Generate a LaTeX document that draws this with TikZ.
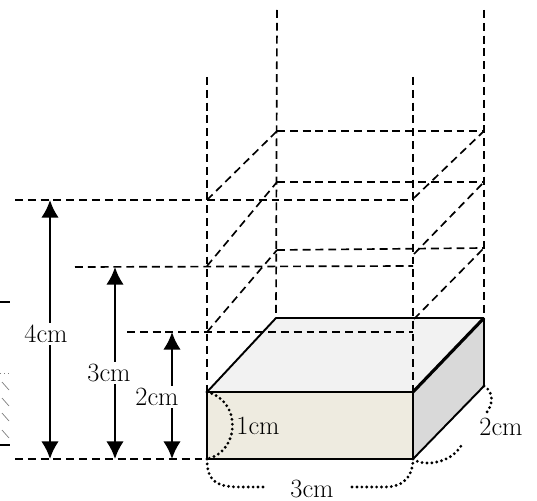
\documentclass[tikz,border=0pt]{standalone}
\usetikzlibrary{arrows.meta}

\begin{document}
\begin{tikzpicture}[x=0.02cm, y=-0.02cm,
  font=\fontsize{15}{17}\selectfont,
  guide/.style={line width=0.95pt, dash pattern=on 4.5pt off 2.8pt},
  edge/.style={line width=1.1pt, line join=round},
  dim/.style={{Latex[length=10pt,width=10pt]}-{Latex[length=10pt,width=10pt]}, line width=1.5pt},
  brace/.style={line width=1.8pt, line cap=round, dash pattern=on 0pt off 2.8pt},
  lbl/.style={fill=white, inner sep=1pt}]
\useasboundingbox (0,0) rectangle (537,500);
% box corners
\coordinate (fbl) at (207,459);
\coordinate (fbr) at (413,459);
\coordinate (ftl) at (207,392);
\coordinate (ftr) at (413,392);
\coordinate (btl) at (276,318);
\coordinate (btr) at (484,318);
\coordinate (bbr) at (484,386);
% levels
\coordinate (f2l) at (207,332); \coordinate (f2r) at (413,332);
\coordinate (f3l) at (207,266); \coordinate (f3r) at (413,266);
\coordinate (f4l) at (207,200); \coordinate (f4r) at (413,200);
\coordinate (b2l) at (277,250); \coordinate (b2r) at (484,248);
\coordinate (b3l) at (277,182); \coordinate (b3r) at (484,182);
\coordinate (b4l) at (277,131); \coordinate (b4r) at (484,131);
\coordinate (g2r) at (414,319); \coordinate (g3r) at (414,254); \coordinate (g4r) at (414,198);
\coordinate (flt) at (207,77);  \coordinate (frt) at (413,77);
\coordinate (blt) at (277,10);  \coordinate (brt) at (484,10);
\coordinate (a0) at (15,459); \coordinate (a2) at (127,332);
\coordinate (a3) at (75,267); \coordinate (a4) at (15,200);
% faces
\fill[fill={rgb,255:red,238;green,235;blue,224}] (ftl) rectangle (fbr);
\fill[fill={rgb,255:red,242;green,242;blue,242}] (ftl) -- (ftr) -- (btr) -- (btl) -- cycle;
\fill[fill={rgb,255:red,217;green,217;blue,217}] (ftr) -- (btr) -- (bbr) -- (fbr) -- cycle;
% dashed guides
\draw[guide] (flt) -- (ftl);
\draw[guide] (frt) -- (ftr);
\draw[guide] (blt) -- (btl);
\draw[guide] (brt) -- (btr);
\draw[guide] (a0) -- (fbl);
\draw[guide] (a2) -- (f2r);
\draw[guide] (a3) -- (f3r);
\draw[guide] (a4) -- (f4r);
\draw[guide] (b2l) -- (b2r);
\draw[guide] (b3l) -- (b3r);
\draw[guide] (b4l) -- (b4r);
\draw[guide] (f2l) -- (b2l);
\draw[guide] (f3l) -- (b3l);
\draw[guide] (f4l) -- (b4l);
\draw[guide] (g2r) -- (b2r);
\draw[guide] (g3r) -- (b3r);
\draw[guide] (g4r) -- (b4r);
% box edges
\draw[edge] (ftl) rectangle (fbr);
\draw[edge] (ftl) -- (btl) -- (btr);
\draw[edge] (fbr) -- (bbr);
\draw[edge, line width=1.4pt] (btr) -- (bbr);
\draw[edge, line width=1.8pt] (ftr) -- (btr);
% heights
\coordinate (h4t) at (50,200);  \coordinate (h4b) at (50,459);
\coordinate (h3t) at (115,267); \coordinate (h3b) at (115,459);
\coordinate (h2t) at (172,332); \coordinate (h2b) at (172,459);
\draw[dim] (h4t) -- (h4b);
\draw[dim] (h3t) -- (h3b);
\draw[dim] (h2t) -- (h2b);
\node[lbl] (l4) at (46,334) {4cm};
\node[lbl] (l3) at (109,373) {3cm};
\node[lbl] (l2) at (157,397) {2cm};
% box sizes
\node (w1) at (258,426) {1cm};
\node (w3) at (312,489) {3cm};
\node (w2) at (501,427) {2cm};
\coordinate (w3a) at (265,487); \coordinate (w3b) at (352,487);
\coordinate (w2a) at (463,442); \coordinate (w2b) at (487,412);
\draw[brace] (ftl) .. controls (241,400) and (241,451) .. (fbl);
\draw[brace] (fbl) .. controls (207,480) and (215,487) .. (240,487) -- (w3a);
\draw[brace] (w3b) -- (385,487) .. controls (405,487) and (413,475) .. (fbr);
\draw[brace] (fbr) .. controls (425,468) and (455,462) .. (w2a);
\draw[brace] (bbr) .. controls (494,392) and (493,404) .. (w2b);
% cut-off piece at the left edge
\draw[line width=0.9pt] (0,302) -- (10,302);
\draw[line width=0.9pt] (0,445) -- (10,445);
\draw[gray, thin, dotted] (0,373) -- (10,373);
\foreach \y in {382,398,413,430}
  \draw[gray, thin] (2,\y) -- (9,\y+8);
\end{tikzpicture}
\end{document}
